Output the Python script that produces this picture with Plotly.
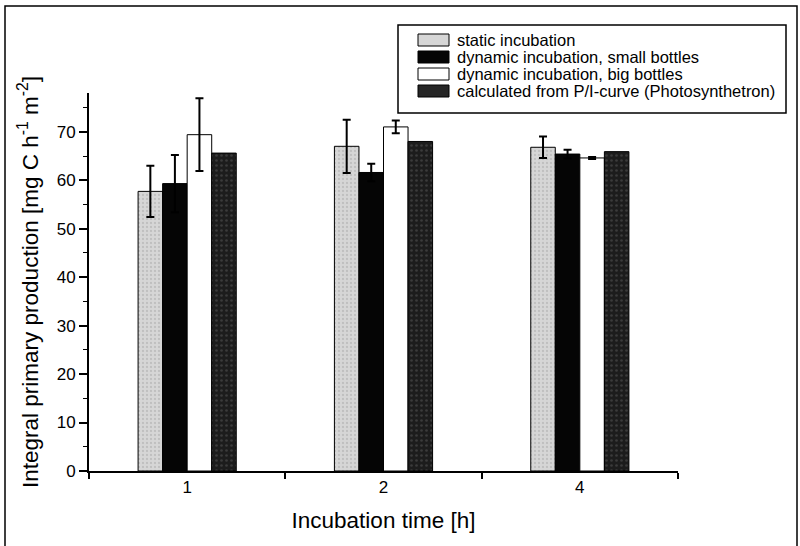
import plotly.graph_objects as go

# ---- data ----
categories = ["1", "2", "4"]
series_names = [
    "static incubation",
    "dynamic incubation, small bottles",
    "dynamic incubation, big bottles",
    "calculated from P/I-curve (Photosynthetron)",
]
static_vals = [57.7, 67.0, 66.8]
static_err = [5.3, 5.5, 2.2]
small_vals = [59.3, 61.6, 65.4]
small_err = [5.9, 1.8, 0.9]
big_vals = [69.4, 71.0, 64.6]
big_err = [7.5, 1.3, 0.2]
calc_vals = [65.6, 68.0, 65.9]

# ---- layout geometry (pixels) ----
W, H = 800, 546
L, R, T, B = 89, 122, 93, 75
PW, PH = W - L - R, H - T - B


def px(x):
    return (x - L) / PW


def py(y):
    return (H - B - y) / PH


FONT = "Liberation Sans, Arial, sans-serif"

styles = [
    dict(color="#d6d6d6", pattern=dict(shape=".", fgcolor="#a8a8a8", size=4, solidity=0.25)),
    dict(color="#050505"),
    dict(color="#ffffff"),
    dict(color="#1c1c1c", pattern=dict(shape=".", fgcolor="#5a5a5a", size=5, solidity=0.2)),
]
legend_fill = ["#d6d6d6", "#050505", "#ffffff", "#262626"]

vals = [static_vals, small_vals, big_vals, calc_vals]
errs = [static_err, small_err, big_err, None]

fig = go.Figure()
for name, v, e, st in zip(series_names, vals, errs, styles):
    marker = dict(color=st["color"], line=dict(color="black", width=1))
    if "pattern" in st:
        marker["pattern"] = st["pattern"]
    kw = {}
    if e is not None:
        kw["error_y"] = dict(type="data", array=e, visible=True, color="black",
                             thickness=2, width=4)
    fig.add_trace(go.Bar(x=categories, y=v, name=name, marker=marker,
                         showlegend=False, **kw))

shapes = []
annotations = []
# outer frame
shapes.append(dict(type="rect", xref="paper", yref="paper",
                   x0=px(5), x1=px(797), y0=py(552), y1=py(6),
                   line=dict(color="black", width=1.5), fillcolor="rgba(0,0,0,0)"))
# legend box
shapes.append(dict(type="rect", xref="paper", yref="paper",
                   x0=px(398), x1=px(786), y0=py(113), y1=py(25),
                   line=dict(color="black", width=1.5), fillcolor="white"))
for i, name in enumerate(series_names):
    top = 34 + 17 * i
    shapes.append(dict(type="rect", xref="paper", yref="paper",
                       x0=px(418), x1=px(449), y0=py(top + 12), y1=py(top),
                       line=dict(color="black", width=1), fillcolor=legend_fill[i]))
    annotations.append(dict(xref="paper", yref="paper", x=px(455), y=py(top + 6),
                            text=name, showarrow=False, xanchor="left", yanchor="middle",
                            font=dict(size=16.5, color="black", family=FONT)))

fig.update_layout(
    width=W, height=H,
    margin=dict(l=L, r=R, t=T, b=B),
    paper_bgcolor="white", plot_bgcolor="white",
    barmode="group", bargap=0.5, bargroupgap=0,
    font=dict(family=FONT, color="black"),
    shapes=shapes, annotations=annotations,
)
fig.update_xaxes(
    type="category", range=[-0.5, 2.5], tickson="boundaries",
    ticks="outside", ticklen=6, tickwidth=1.5, tickcolor="black",
    showline=True, linecolor="black", linewidth=2, showgrid=False, zeroline=False,
    tickfont=dict(size=17),
    title=dict(text="Incubation time [h]", font=dict(size=22.5), standoff=16),
)
fig.update_yaxes(
    range=[0, 78], dtick=10, tick0=0,
    ticks="outside", ticklen=8, tickwidth=1.5, tickcolor="black",
    minor=dict(dtick=5, ticks="outside", ticklen=4, tickwidth=1.2, tickcolor="black"),
    showline=True, linecolor="black", linewidth=2, showgrid=False, zeroline=False,
    tickfont=dict(size=17),
    title=dict(text="Integral primary production [mg C h<sup>-1</sup> m<sup>-2</sup>]",
               font=dict(size=22.5), standoff=12),
)

fig.write_html("out.html")
